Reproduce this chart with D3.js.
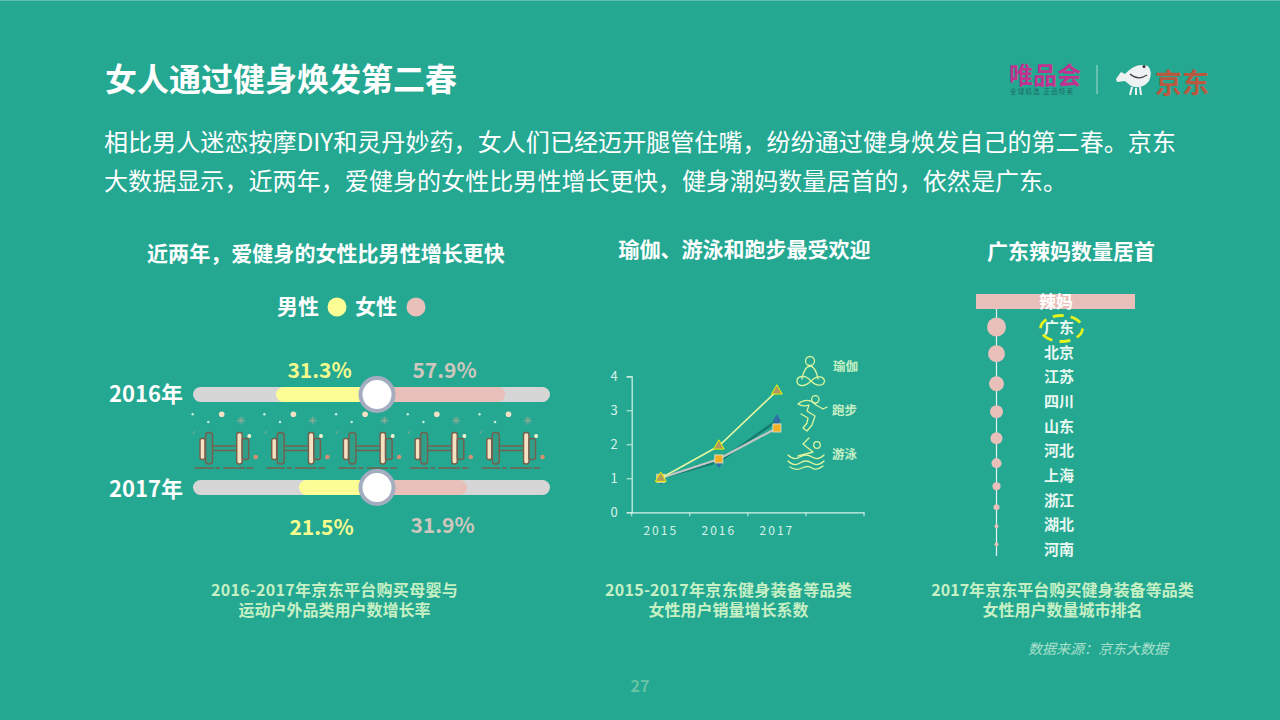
<!DOCTYPE html>
<html>
<head>
<meta charset="utf-8">
<script src="https://cdnjs.cloudflare.com/ajax/libs/d3/7.8.5/d3.min.js"></script>
<style>
html, body { margin: 0; padding: 0; background: #24a892; overflow: hidden; }
text { font-family: "Noto Sans CJK SC", "Noto Sans", sans-serif; }
</style>
</head>
<body>
<div id="chart"></div>
<script>
// dumbbell chart
var years = ['2016年', '2017年'];
var maleGrowth = [31.3, 21.5];
var femaleGrowth = [57.9, 31.9];

// line chart
var lineYears = ['2015', '2016', '2017', ''];
var lineTicks = [0, 1, 2, 3, 4];
var yogaValues = [1, 1.95, 3.57];
var runValues = [1, 1.49, 2.7];
var swimValues = [1, 1.57, 2.48];

// ranking
var provinces = ['广东', '北京', '江苏', '四川', '山东', '河北', '上海', '浙江', '湖北', '河南'];
var provinceValues = [100, 80, 62, 47, 40, 28, 18, 10, 4.4, 4.4];

var bodyLines = [
    '相比男人迷恋按摩DIY和灵丹妙药，女人们已经迈开腿管住嘴，纷纷通过健身焕发自己的第二春。京东',
    '大数据显示，近两年，爱健身的女性比男性增长更快，健身潮妈数量居首的，依然是广东。'
];

var YELLOW = '#fdfd96', PINK = '#e9bfba', TRACK = '#d6d6d6', WHITE = '#ffffff',
    CAPTION = '#c6f0c4', ICON = '#dcf5a0', BROWN = '#75604e', CREAM = '#f6e2c2', PLATE = '#2f9f8a';

var svg = d3.select('#chart').append('svg')
    .attr('width', 1280)
    .attr('height', 720)
    .style('display', 'block');

svg.append('rect').attr('width', 1280).attr('height', 720).attr('fill', '#24a892');
svg.append('rect').attr('width', 1280).attr('height', 1).attr('fill', '#5cc0ac');

function label(parent, x, y, str, size, color, opts) {
    opts = opts || {};
    return parent.append('text')
        .attr('x', x)
        .attr('y', y)
        .attr('font-size', size)
        .attr('font-weight', opts.weight || 'bold')
        .attr('font-style', opts.style || null)
        .attr('letter-spacing', opts.spacing || null)
        .attr('text-anchor', opts.anchor || 'start')
        .attr('fill', color)
        .text(str);
}

// header
label(svg, 105, 91, '女人通过健身焕发第二春', 32, WHITE);
bodyLines.forEach(function(line, i) {
    label(svg, 104, 151 + i * 39, line, 24, WHITE, { weight: 'normal', spacing: 0.08 });
});

// logos
var logo = svg.append('g');
label(logo, 1009, 84, '唯品会', 24, '#c0338f');
label(logo, 1010, 94, '全球精选 正品特卖', 6.5, '#1c6a62', { weight: 'normal', spacing: 1.2 });
logo.append('line').attr('x1', 1097).attr('x2', 1097).attr('y1', 65).attr('y2', 94)
    .attr('stroke', '#a6dccf').attr('stroke-width', 1);
label(logo, 1155, 93, '京东', 27, '#b9593f');
logo.append('path')
    .attr('d', 'M1116 79 L1121 72 L1125 74 Q1136 62 1148 66 Q1153 72 1149 81 Q1142 90 1131 86 L1125 81 L1117 82 Z')
    .attr('fill', '#eef2f2');
logo.append('path').attr('d', 'M1132 87 L1130 95 M1136 88 L1136 95 M1140 87 L1141 95')
    .attr('stroke', '#eef2f2').attr('stroke-width', 2).attr('fill', 'none');
logo.append('path').attr('d', 'M1130 74 Q1138 81 1147 75')
    .attr('stroke', '#444').attr('stroke-width', 1.2).attr('fill', 'none');
logo.append('circle').attr('cx', 1144).attr('cy', 66.500).attr('r', 1.5).attr('fill', '#333');

// section titles
label(svg, 326, 261, '近两年，爱健身的女性比男性增长更快', 21, WHITE, { anchor: 'middle', spacing: 0.05 });
label(svg, 744.5, 257, '瑜伽、游泳和跑步最受欢迎', 21, WHITE, { anchor: 'middle' });
label(svg, 1071, 259, '广东辣妈数量居首', 21, WHITE, { anchor: 'middle' });

// captions
[[334.5, '2016-2017年京东平台购买母婴与', '运动户外品类用户数增长率', 0.3],
 [728.5, '2015-2017年京东健身装备等品类', '女性用户销量增长系数', 0.3],
 [1062.5, '2017年京东平台购买健身装备等品类', '女性用户数量城市排名', 0.05]].forEach(function(c) {
    label(svg, c[0], 596, c[1], 16, CAPTION, { anchor: 'middle', spacing: c[3] });
    label(svg, c[0], 616, c[2], 16, CAPTION, { anchor: 'middle' });
});
label(svg, 1098, 654, '数据来源：京东大数据', 14, '#a9e0cb', { anchor: 'middle', weight: 'normal', style: 'italic' });
label(svg, 640, 692, '27', 16, '#68c3a6', { anchor: 'middle' });

// legend
label(svg, 277, 314, '男性', 21, WHITE);
svg.append('circle').attr('cx', 337).attr('cy', 307).attr('r', 9.5).attr('fill', YELLOW);
label(svg, 355, 314, '女性', 21, WHITE);
svg.append('circle').attr('cx', 416).attr('cy', 307).attr('r', 9.5).attr('fill', PINK);

// sliders: bar lengths in the picture are not proportional, each side has its own scale
var centerX = 377;
var maleScale = d3.scaleLinear().domain([21.5, 31.3]).range([78, 101]);
var femaleScale = d3.scaleLinear().domain([31.9, 57.9]).range([90, 128]);
var yearY = d3.scalePoint().domain(years).range([394.5, 487.5]);
var barH = 15;

var rows = svg.selectAll('g.row')
    .data(years)
    .enter()
    .append('g')
    .attr('class', 'row')
    .attr('transform', function(d) { return 'translate(0,' + yearY(d) + ')'; });

rows.append('rect')
    .attr('x', 193).attr('y', -barH / 2).attr('width', 357).attr('height', barH).attr('rx', 7.5)
    .attr('fill', TRACK);
rows.append('rect')
    .attr('x', function(d, i) { return centerX - maleScale(maleGrowth[i]); })
    .attr('y', -barH / 2)
    .attr('width', function(d, i) { return maleScale(maleGrowth[i]) + 10; })
    .attr('height', barH).attr('rx', 7.5)
    .attr('fill', YELLOW);
rows.append('rect')
    .attr('x', centerX - 10)
    .attr('y', -barH / 2)
    .attr('width', function(d, i) { return femaleScale(femaleGrowth[i]) + 10; })
    .attr('height', barH).attr('rx', 7.5)
    .attr('fill', PINK);
rows.append('circle')
    .attr('cx', centerX).attr('r', 16.5)
    .attr('fill', WHITE).attr('stroke', '#a3adbf').attr('stroke-width', 4);
rows.append('text')
    .attr('x', 109)
    .attr('y', function(d, i) { return i ? 9.5 : 7.5; })
    .attr('font-size', 22).attr('font-weight', 'bold').attr('fill', WHITE)
    .text(function(d) { return d; });

rows.append('text')
    .attr('x', function(d, i) { return i ? 321.5 : 319.5; })
    .attr('y', function(d, i) { return i ? 47 : -17; })
    .attr('text-anchor', 'middle')
    .attr('font-size', 21).attr('font-weight', 'bold').attr('fill', '#f6fb8e')
    .text(function(d, i) { return maleGrowth[i].toFixed(1) + '%'; });
rows.append('text')
    .attr('x', function(d, i) { return i ? 442.5 : 444.5; })
    .attr('y', function(d, i) { return i ? 45 : -17; })
    .attr('text-anchor', 'middle')
    .attr('font-size', 21).attr('font-weight', 'bold').attr('fill', '#cfc6bd')
    .text(function(d, i) { return femaleGrowth[i].toFixed(1) + '%'; });

// dumbbell row, same icon five times
function dumbbell(g) {
    g.append('circle').attr('cx', 2.7).attr('cy', 14.3).attr('r', 1.2).attr('fill', '#cfeedd');
    g.append('circle').attr('cx', 18.3).attr('cy', 22).attr('r', 1.2).attr('fill', '#cfeedd');
    g.append('circle').attr('cx', 31.7).attr('cy', 14.3).attr('r', 2.8).attr('fill', CREAM);
    g.append('path').attr('d', 'M51 16.5V24.5M47 20.5H55M48.200 17.700L53.800 23.300M48.200 23.300L53.800 17.700')
        .attr('stroke', '#8cab97').attr('stroke-width', 1).attr('fill', 'none');
    g.append('path').attr('d', 'M3 34L5 31').attr('stroke', '#8cab97').attr('stroke-width', 1);
    g.append('circle').attr('cx', 59.3).attr('cy', 36).attr('r', 2).attr('fill', '#f2f0d0');
    g.append('circle').attr('cx', 65.7).attr('cy', 57).attr('r', 2.3).attr('fill', '#d88f72');
    g.append('path').attr('d', 'M22.5 46H47M22.5 50.500H47')
        .attr('stroke', BROWN).attr('stroke-width', 1.5);
    g.append('rect').attr('x', 10).attr('y', 38.5).attr('width', 5).attr('height', 21).attr('rx', 2)
        .attr('fill', CREAM).attr('stroke', BROWN).attr('stroke-width', 1.5);
    g.append('rect').attr('x', 15.5).attr('y', 32.5).attr('width', 7).attr('height', 31.5).attr('rx', 3)
        .attr('fill', PLATE).attr('stroke', BROWN).attr('stroke-width', 1.5);
    g.append('rect').attr('x', 46.7).attr('y', 32.5).attr('width', 5.5).attr('height', 31.5).attr('rx', 2.5)
        .attr('fill', CREAM).attr('stroke', BROWN).attr('stroke-width', 1.5);
    g.append('rect').attr('x', 52.2).attr('y', 38.5).attr('width', 6.5).attr('height', 21).attr('rx', 2)
        .attr('fill', PLATE).attr('stroke', BROWN).attr('stroke-width', 1.5);
    g.append('path').attr('d', 'M4.7 68H23.3M25.3 68H30M33.3 68H55M56.7 68H63.3')
        .attr('stroke', BROWN).attr('stroke-width', 1.5);
}
d3.range(5).forEach(function(i) {
    dumbbell(svg.append('g').attr('transform', 'translate(' + (190 + i * 71.7) + ',400)'));
});

// line chart
var x = d3.scaleBand().domain(lineYears).range([631.7, 864]);
var y = d3.scaleLinear().domain([0, 4]).range([512.3, 376.3]);
var axisColor = '#d7f2e8';

var xAxis = svg.append('g')
    .attr('transform', 'translate(0,' + y(0) + ')')
    .call(d3.axisBottom(x).tickSize(0).tickFormat(function(d) { return d; }));
xAxis.select('.domain').attr('stroke', axisColor).attr('stroke-width', 1.2);
xAxis.selectAll('text').attr('font-size', 12).attr('fill', axisColor).attr('dy', 20)
    .attr('letter-spacing', 2).attr('font-family', '"Open Sans", sans-serif');
svg.selectAll('line.xtick')
    .data(d3.range(lineYears.length + 1))
    .enter()
    .append('line')
    .attr('class', 'xtick')
    .attr('x1', function(d) { return 631.7 + d * x.step(); })
    .attr('x2', function(d) { return 631.7 + d * x.step(); })
    .attr('y1', y(0)).attr('y2', y(0) + 4)
    .attr('stroke', axisColor).attr('stroke-width', 1);

var yAxis = svg.append('g')
    .attr('transform', 'translate(631.7,0)')
    .call(d3.axisLeft(y).tickValues(lineTicks).tickSize(5).tickFormat(d3.format('d')));
yAxis.select('.domain').attr('stroke', axisColor).attr('stroke-width', 1.2);
yAxis.selectAll('line').attr('stroke', axisColor);
yAxis.selectAll('text').attr('font-size', 13).attr('fill', axisColor).attr('x', -14)
    .attr('font-family', '"Open Sans", sans-serif');

var lineGen = d3.line()
    .x(function(d, i) { return x(lineYears[i]) + x.bandwidth() / 2; })
    .y(function(d) { return y(d); });
var markerX = function(d, i) { return x(lineYears[i]) + x.bandwidth() / 2; };

svg.append('path').attr('d', lineGen(runValues)).attr('fill', 'none')
    .attr('stroke', '#137a6e').attr('stroke-width', 2.2);
svg.selectAll('path.run').data(runValues).enter().append('path').attr('class', 'run')
    .attr('d', d3.symbol(d3.symbolDiamond, 50))
    .attr('transform', function(d, i) { return 'translate(' + markerX(d, i) + ',' + y(d) + ')'; })
    .attr('fill', '#2f6ea5');

svg.append('path').attr('d', lineGen(swimValues)).attr('fill', 'none')
    .attr('stroke', '#c2c6c4').attr('stroke-width', 2.2);
svg.selectAll('rect.swim').data(swimValues).enter().append('rect').attr('class', 'swim')
    .attr('x', function(d, i) { return markerX(d, i) - 4; })
    .attr('y', function(d) { return y(d) - 4; })
    .attr('width', 8).attr('height', 8)
    .attr('fill', '#f5ae1f').attr('stroke', '#d9d9c0').attr('stroke-width', 1);

svg.append('path').attr('d', lineGen(yogaValues)).attr('fill', 'none')
    .attr('stroke', '#e2f5a2').attr('stroke-width', 1.6);
svg.selectAll('path.yoga').data(yogaValues).enter().append('path').attr('class', 'yoga')
    .attr('d', d3.symbol(d3.symbolTriangle, 50))
    .attr('transform', function(d, i) { return 'translate(' + markerX(d, i) + ',' + y(d) + ')'; })
    .attr('fill', '#b09a62').attr('stroke', '#e2f500').attr('stroke-width', 1);

// sport icons
var icons = svg.append('g').attr('fill', 'none').attr('stroke', ICON).attr('stroke-width', 1.3)
    .attr('stroke-linecap', 'round').attr('stroke-linejoin', 'round');
icons.append('circle').attr('cx', 810).attr('cy', 361).attr('r', 4.5);
icons.append('path').attr('d', 'M802 379Q804 367 810 366Q816 367 818 379');
icons.append('path').attr('d', 'M811 381C804 373 797 377 797 381C797 386 804 388 811 381C818 374 824 377 824.500 381C824 386 817 387 811 381Z');
icons.append('circle').attr('cx', 815.300).attr('cy', 399.300).attr('r', 3.700);
icons.append('path').attr('d', 'M798 404Q804 399 811 401L816 405L823 409L827 407M798 404Q803 407 809 405L807 411L815 416L812 425L807 431L803 428L807 423L808 418L801 414');
icons.append('circle').attr('cx', 817).attr('cy', 445).attr('r', 3.300);
icons.append('path').attr('d', 'M809 438L803 444L813 452L798 456');
icons.append('path').attr('d', 'M788 455Q794 461 800 457T812 457T824 455');
icons.append('path').attr('d', 'M788 461Q794 467 800 463T812 463T824 461');
icons.append('path').attr('d', 'M790 467Q796 471 802 468T812 468T823 466');
label(svg, 833, 371, '瑜伽', 12.5, CAPTION);
label(svg, 832, 415, '跑步', 12.5, CAPTION);
label(svg, 832, 459, '游泳', 12.5, CAPTION);

// ranking
svg.append('rect').attr('x', 976).attr('y', 294).attr('width', 159).attr('height', 15).attr('fill', PINK);
label(svg, 1056, 307.5, '辣妈', 17, WHITE, { anchor: 'middle' });
svg.append('line').attr('x1', 996.500).attr('x2', 996.500).attr('y1', 309).attr('y2', 556)
    .attr('stroke', '#e6f3ee').attr('stroke-width', 1.2);

var rScale = d3.scaleSqrt().domain([0, 100]).range([0, 9.5]);
var nameY = d3.scalePoint().domain(provinces).range([333, 555]);

// circles sit in a chain, each one a fixed gap after the one above
var circleY = [];
provinceValues.forEach(function(v, i) {
    if (i === 0) { circleY.push(327); return; }
    var gap = i === 1 ? 8.7 : 14;
    circleY.push(circleY[i - 1] + rScale(provinceValues[i - 1]) + rScale(v) + gap);
});

svg.selectAll('circle.rank')
    .data(provinceValues)
    .enter()
    .append('circle')
    .attr('class', 'rank')
    .attr('cx', 996.500)
    .attr('cy', function(d, i) { return circleY[i]; })
    .attr('r', function(d) { return rScale(d); })
    .attr('fill', PINK);

svg.selectAll('text.prov')
    .data(provinces)
    .enter()
    .append('text')
    .attr('class', 'prov')
    .attr('x', 1059)
    .attr('y', function(d) { return nameY(d); })
    .attr('text-anchor', 'middle')
    .attr('font-size', 15)
    .attr('font-weight', 'bold')
    .attr('fill', '#e9f8f0')
    .text(function(d) { return d; });

svg.append('ellipse')
    .attr('cx', 1061.500).attr('cy', 328.500).attr('rx', 21).attr('ry', 13)
    .attr('fill', 'none').attr('stroke', '#e4f21e').attr('stroke-width', 2.8)
    .attr('stroke-dasharray', '11 7');
</script>
</body>
</html>
